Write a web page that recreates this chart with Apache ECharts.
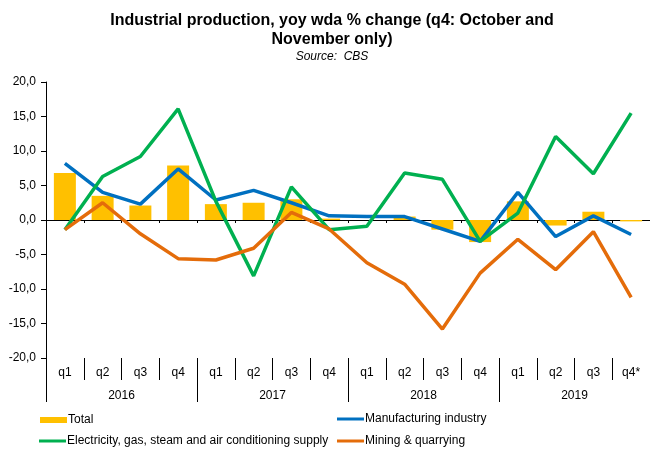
<!DOCTYPE html>
<html>
<head>
<meta charset="utf-8">
<script src="https://cdn.jsdelivr.net/npm/echarts@6/dist/echarts.min.js"></script>
<style>html,body{margin:0;padding:0;background:#fff;}#c{width:650px;height:450px;}</style>
</head>
<body>
<div id="c"></div>
<script>
var quarters = ['q1','q2','q3','q4','q1','q2','q3','q4','q1','q2','q3','q4','q1','q2','q3','q4*'];
var years = ['2016','2017','2018','2019'];
var total = [6.8, 3.5, 2.1, 7.9, 2.3, 2.5, 3.0, 0.2, 0.0, 0.5, -1.4, -3.2, 2.7, -0.8, 1.2, -0.2];
var manufacturing = [8.2, 4.0, 2.3, 7.4, 2.9, 4.3, 2.5, 0.6, 0.5, 0.5, -1.3, -3.1, 4.0, -2.4, 0.6, -2.1];
var electricity = [-1.4, 6.3, 9.2, 16.1, 2.7, -8.1, 4.8, -1.4, -0.9, 6.8, 5.9, -3.1, 1.0, 12.1, 6.7, 15.5];
var mining = [-1.4, 2.5, -2.0, -5.6, -5.8, -4.1, 1.1, -1.3, -6.2, -9.3, -15.8, -7.7, -2.8, -7.2, -1.7, -11.2];
var yTicks = [-20, -15, -10, -5, 0, 5, 10, 15, 20];

var FONT = 'Liberation Sans, Arial, sans-serif';
var names = ['Total', 'Manufacturing industry', 'Electricity, gas, steam and air conditioning supply', 'Mining & quarrying'];
var colors = ['#FFC000', '#0070C0', '#00B050', '#E46C0A'];

var chart = echarts.init(document.getElementById('c'), null, {renderer: 'canvas'});
function legendItem(i, left, top, h) {
  return {
    data: [names[i]], left: left, top: top, padding: 0, icon: 'rect',
    itemWidth: 27, itemHeight: h, itemGap: 0, selectedMode: false,
    textStyle: {fontSize: 12, color: '#000', fontFamily: FONT, padding: [0, 0, 0, -4]}
  };
}
chart.setOption({
  animation: false,
  textStyle: {fontFamily: FONT},
  title: [
    {text: 'Industrial production, yoy wda % change (q4: October and\nNovember only)',
     left: 332, top: 11, padding: 0, textAlign: 'center',
     textStyle: {fontSize: 16, fontWeight: 'bold', color: '#000', lineHeight: 19, fontFamily: FONT}},
    {text: 'Source:  CBS', left: 332, top: 50, padding: 0, textAlign: 'center',
     textStyle: {fontSize: 12, fontStyle: 'italic', fontWeight: 'normal', color: '#000', lineHeight: 14, fontFamily: FONT}}
  ],
  legend: [
    legendItem(0, 40, 414, 6),
    legendItem(1, 337, 413, 3),
    legendItem(2, 39, 435, 3),
    legendItem(3, 337, 435, 3)
  ],
  grid: {left: 46, right: 0, top: 82, bottom: 92, containLabel: false},
  xAxis: [
    {type: 'category', data: quarters, position: 'bottom', boundaryGap: true,
     axisLine: {show: false, onZero: false},
     axisTick: {show: true, interval: 0, length: 22, lineStyle: {color: '#000'}},
     axisLabel: {interval: 0, margin: 9, fontSize: 12, color: '#000', fontFamily: FONT},
     splitLine: {show: false}},
    {type: 'category', data: years, position: 'bottom', boundaryGap: true,
     axisLine: {show: false, onZero: false},
     axisTick: {show: true, interval: 0, length: 44, lineStyle: {color: '#000'}},
     axisLabel: {interval: 0, margin: 32, fontSize: 12, color: '#000', fontFamily: FONT},
     splitLine: {show: false}},
    {type: 'category', data: quarters, position: 'bottom', boundaryGap: true,
     axisLine: {show: true, onZero: true, lineStyle: {color: '#000', width: 1}},
     axisTick: {show: true, interval: 0, length: 3, lineStyle: {color: '#000'}},
     axisLabel: {show: false}, splitLine: {show: false}}
  ],
  yAxis: {
    type: 'value', min: yTicks[0], max: yTicks[yTicks.length - 1], interval: 5,
    axisLine: {show: true, lineStyle: {color: '#000', width: 1}},
    axisTick: {show: true, length: 5, lineStyle: {color: '#000'}},
    axisLabel: {margin: 10, fontSize: 12, color: '#000', fontFamily: FONT,
      formatter: function (v) { return v.toFixed(1).replace('.', ','); }},
    splitLine: {show: false}
  },
  series: [
    {name: names[0], type: 'bar', data: total, xAxisIndex: 0, barWidth: 22,
     itemStyle: {color: colors[0]}},
    {name: names[1], type: 'line', data: manufacturing, xAxisIndex: 0, showSymbol: false, symbol: 'none',
     lineStyle: {color: colors[1], width: 3.5}, itemStyle: {color: colors[1]}},
    {name: names[2], type: 'line', data: electricity, xAxisIndex: 0, showSymbol: false, symbol: 'none',
     lineStyle: {color: colors[2], width: 3.5}, itemStyle: {color: colors[2]}},
    {name: names[3], type: 'line', data: mining, xAxisIndex: 0, showSymbol: false, symbol: 'none',
     lineStyle: {color: colors[3], width: 3.5}, itemStyle: {color: colors[3]}}
  ]
});
</script>
</body>
</html>
